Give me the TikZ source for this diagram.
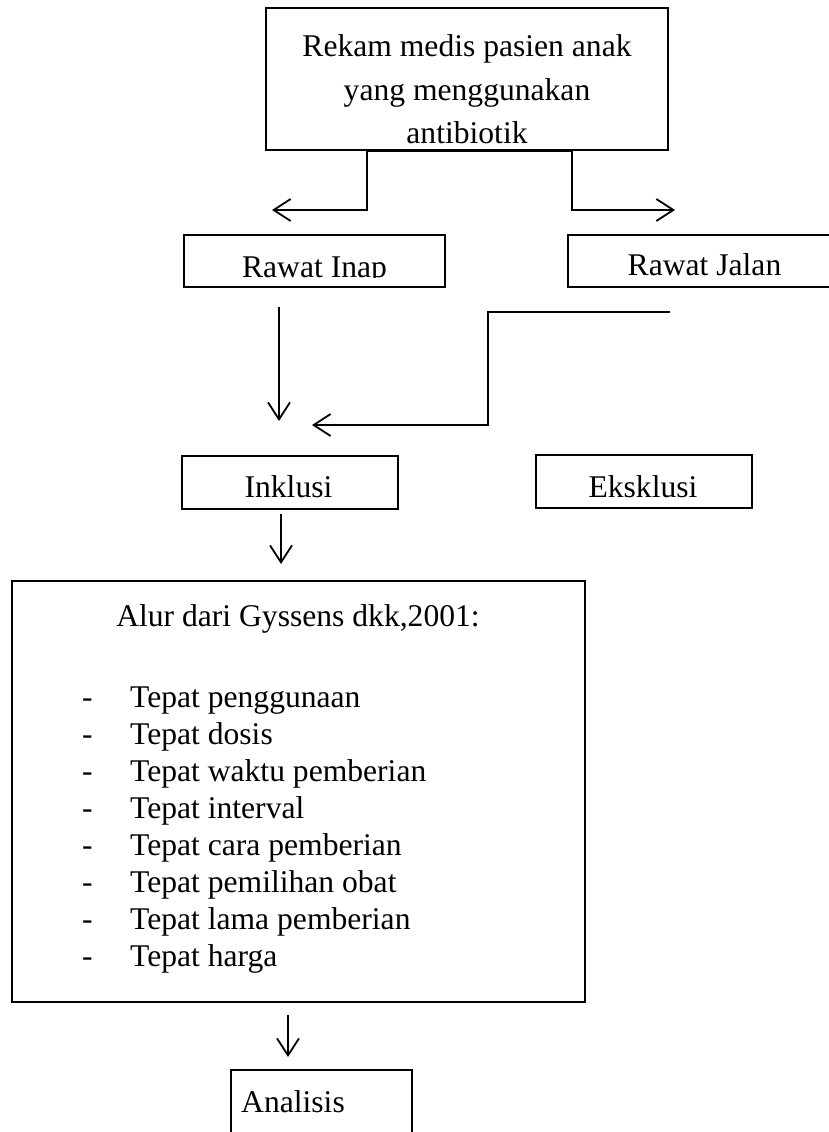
\documentclass[tikz,border=0pt]{standalone}
\usepackage{fontspec}
\setmainfont{Liberation Serif}
\usetikzlibrary{arrows.meta}
\begin{document}
\begin{tikzpicture}[x=1pt,y=-1pt,
  box/.style={draw,line width=1.8pt,inner sep=0pt},
  lbl/.style={inner sep=0pt,anchor=base,font=\fontsize{31.6}{37}\selectfont},
  lblw/.style={inner sep=0pt,anchor=base west,font=\fontsize{31.6}{37}\selectfont},
  conn/.style={line width=1.8pt},
  arr/.style={line width=1.8pt,-{Straight Barb[length=17pt,width=22pt]}}]
\useasboundingbox (0,0) rectangle (829,1132);
\clip (0,0) rectangle (829,1132);
% boxes
\node[box,minimum width=402pt,minimum height=142pt] (rekam) at (467,79) {};
\node[box,minimum width=261pt,minimum height=52pt] (inap) at (314.5,261) {};
\node[box,minimum width=302pt,minimum height=52pt] (jalan) at (719,261) {};
\node[box,minimum width=216pt,minimum height=53pt] (inklusi) at (290,482.5) {};
\node[box,minimum width=216pt,minimum height=53pt] (eksklusi) at (644,481.5) {};
\node[box,minimum width=573pt,minimum height=421pt] (alur) at (298.5,791.5) {};
\node[box,minimum width=181pt,minimum height=90pt] (analisis) at (321.5,1115) {};
% texts
\node[lbl] (rk1) at (467,57) {Rekam medis pasien anak};
\node[lbl] (rk2) at (467,100) {yang menggunakan};
\node[lbl] (rk3) at (467,143) {antibiotik};
\begin{scope}
  \clip (184,235) rectangle (445,277.5);
  \node[lbl] (inaptxt) at (314.5,277) {Rawat Inap};
\end{scope}
\node[lbl] (jalantxt) at (704.5,275) {Rawat Jalan};
\node[lbl] (inktxt) at (288.5,497) {Inklusi};
\node[lbl] (ekstxt) at (643,497) {Eksklusi};
\node[lbl] (alurtxt) at (298,626) {Alur dari Gyssens dkk,2001:};
\foreach \t [count=\i] in {Tepat penggunaan,Tepat dosis,Tepat waktu pemberian,Tepat interval,Tepat cara pemberian,Tepat pemilihan obat,Tepat lama pemberian,Tepat harga}{
  \node[lblw] (d\i) at (82,{707+37*(\i-1)}) {-};
  \node[lblw] (it\i) at (130,{707+37*(\i-1)}) {\t};
}
\node[lbl] (antxt) at (293,1112) {Analisis};
% connectors
\coordinate (tl) at (272,210);
\coordinate (tr) at (675,210);
\draw[arr] (rekam.south) -- ++(-100,0) |- (tl);
\draw[arr] (rekam.south) -- ++(105,0) |- (tr);
\coordinate (a1) at (279,307);
\coordinate (a2) at (279,421);
\draw[arr] (a1) -- (a2);
\coordinate (j0) at (670,312);
\coordinate (j1) at (312,425);
\draw[arr] (j0) -- (488,312) |- (j1);
\coordinate (b1) at (281,514);
\coordinate (b2) at (281,564);
\draw[arr] (b1) -- (b2);
\coordinate (c1) at (288,1015);
\coordinate (c2) at (288,1057);
\draw[arr] (c1) -- (c2);
\end{tikzpicture}
\end{document}
